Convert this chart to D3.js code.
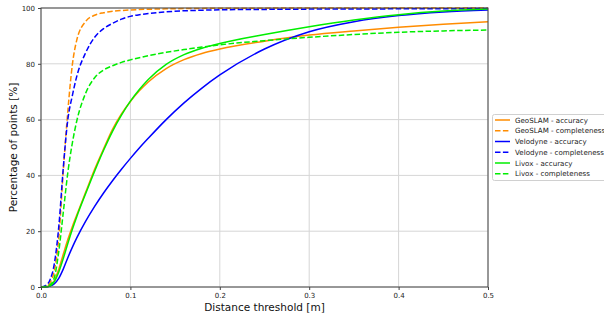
<!DOCTYPE html>
<html><head><meta charset="utf-8">
<script src="https://cdn.jsdelivr.net/npm/d3@7"></script>
<style>body{margin:0;background:#fff}svg{display:block;font-family:"DejaVu Sans",sans-serif}</style>
</head><body><svg id="c" width="604" height="320"></svg>
<script>
const thresholds          = [0,0.005,0.01,0.015,0.02,0.025,0.03,0.035,0.04,0.05,0.06,0.07,0.08,0.09,0.1,0.11,0.12,0.14,0.16,0.18,0.2,0.25,0.3,0.35,0.4,0.45,0.5];
const geoslamAccuracy     = [0,0.1,0.6,2.3,6.5,11.8,17,21.6,25.8,34,42.2,49.5,56.5,62,66.5,70.3,73.5,78.3,81.5,83.7,85.3,88.1,90.3,91.8,93.1,94.2,95.1];
const geoslamCompleteness = [0,0.2,1.5,6,18,42,63,79.5,88.5,95.2,97.4,98.3,98.8,99.1,99.3,99.45,99.55,99.7,99.8,99.85,99.9,99.95,100,100,100,100,100];
const velodyneAccuracy    = [0,0,0.3,1.2,3.2,6.5,10.5,14.2,17.6,23.6,28.9,33.7,38.1,42.2,46.1,49.8,53.3,60,66,71.3,76,85.3,91.5,95.1,97.3,98.6,99.3];
const velodyneCompleteness= [0,0.5,2.5,8.5,22,43,60,68.5,75.5,84,89.5,92.6,94.5,96,97,97.6,98,98.6,99,99.2,99.35,99.5,99.6,99.65,99.7,99.75,99.8];
const livoxAccuracy       = [0,0,0.3,2,5.5,10.3,15.6,20.6,25.2,33.5,41.5,49,55.8,61.6,66.6,70.8,74.4,79.8,83.3,85.6,87.3,90.5,93.3,95.7,97.6,98.9,99.6];
const livoxCompleteness   = [0,0.2,0.8,3.5,13,27,41,51.5,59.5,69.5,75,77.8,79.3,80.5,81.4,82.2,82.9,84.1,85.1,86,86.8,88.3,89.5,90.5,91.3,91.8,92.1];
const xTicks = [0,0.1,0.2,0.3,0.4,0.5];
const yTicks = [0,20,40,60,80,100];
const seriesNames = ["GeoSLAM - accuracy","GeoSLAM - completeness","Velodyne - accuracy","Velodyne - completeness","Livox - accuracy","Livox - completeness"];
const seriesValues = [geoslamAccuracy,geoslamCompleteness,velodyneAccuracy,velodyneCompleteness,livoxAccuracy,livoxCompleteness];
const seriesColors = ["#ff8c00","#ff8c00","#0000ff","#0000ff","#00ee00","#00ee00"];
const seriesDashed = [false,true,false,true,false,true];

const svg = d3.select("#c");
const L=41,R=488,T=8,B=287;
const x = d3.scaleLinear().domain([0,0.5]).range([L,R]);
const y = d3.scaleLinear().domain([0,100]).range([B,T]);

// grid
const g = svg.append("g");
g.selectAll(".gx").data(xTicks).join("line").attr("x1",d=>x(d)).attr("x2",d=>x(d)).attr("y1",T).attr("y2",B).attr("stroke","#d6d6d6").attr("stroke-width",1);
g.selectAll(".gy").data(yTicks).join("line").attr("x1",L).attr("x2",R).attr("y1",d=>y(d)).attr("y2",d=>y(d)).attr("stroke","#d6d6d6").attr("stroke-width",1);

// lines
const line = d3.line().x(d=>x(d[0])).y(d=>y(d[1])).curve(d3.curveMonotoneX);
seriesValues.forEach((vals,i)=>{
  svg.append("path").datum(thresholds.map((t,j)=>[t,vals[j]]))
    .attr("d",line).attr("fill","none").attr("stroke",seriesColors[i]).attr("stroke-width",1.5)
    .attr("stroke-dasharray",seriesDashed[i]?"5.5,2.4":null);
});

// axes
const ax = svg.append("g").attr("transform",`translate(0,${B})`).call(d3.axisBottom(x).tickValues(xTicks).tickFormat(d3.format(".1f")).tickSize(3).tickPadding(3));
const ay = svg.append("g").attr("transform",`translate(${L},0)`).call(d3.axisLeft(y).tickValues(yTicks).tickFormat(d3.format("d")).tickSize(3).tickPadding(3));
[ax,ay].forEach(a=>{a.select(".domain").remove();a.selectAll("line").attr("stroke","#444");a.selectAll("text").attr("font-size",7).attr("fill","#222").attr("font-family","DejaVu Sans");});
svg.append("rect").attr("x",L).attr("y",T).attr("width",R-L).attr("height",B-T).attr("fill","none").attr("stroke","#444").attr("stroke-width",1);

svg.append("text").attr("x",(L+R)/2).attr("y",311).attr("text-anchor","middle").attr("font-size",10.5).attr("fill","#111").text("Distance threshold [m]");
svg.append("text").attr("transform",`translate(17,${(T+B)/2}) rotate(-90)`).attr("text-anchor","middle").attr("font-size",10.5).attr("fill","#111").text("Percentage of points [%]");

// legend
const lg = svg.append("g");
lg.append("rect").attr("x",492.5).attr("y",114.5).attr("width",130).attr("height",66).attr("rx",2).attr("fill","#fff").attr("stroke","#d0d0d0");
seriesNames.forEach((n,i)=>{
  const yy = 120+i*10.75;
  lg.append("line").attr("x1",495).attr("x2",510).attr("y1",yy).attr("y2",yy).attr("stroke",seriesColors[i]).attr("stroke-width",1.5).attr("stroke-dasharray",seriesDashed[i]?"5.5,2.4":null);
  lg.append("text").attr("x",515).attr("y",yy+2.6).attr("font-size",7.1).attr("fill","#222").text(n);
});
</script></body></html>
